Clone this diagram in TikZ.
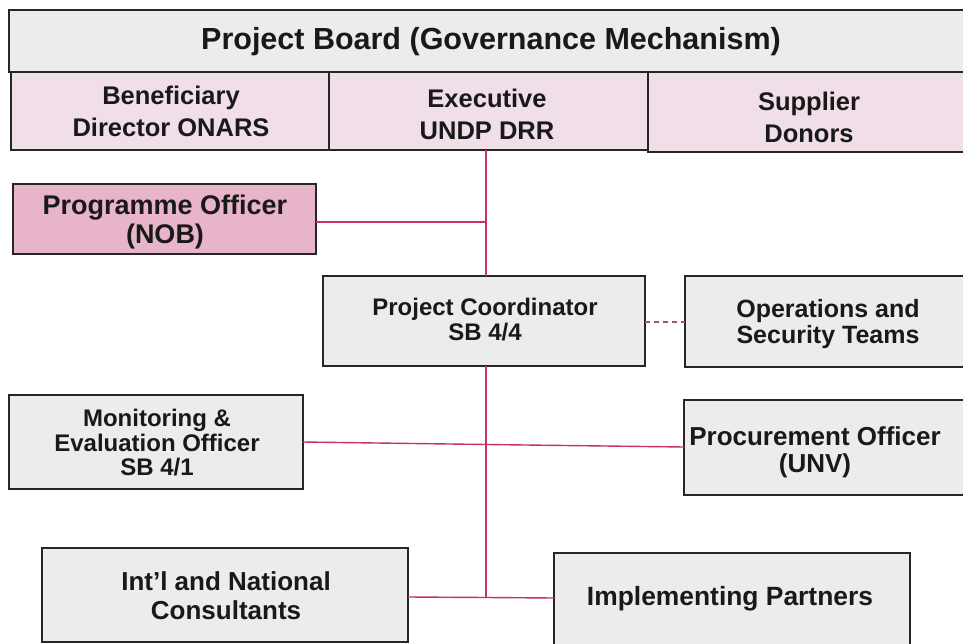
\documentclass[tikz,border=0pt]{standalone}
\usepackage{fontspec}
\setmainfont{Liberation Sans}
\definecolor{linkred}{RGB}{196,52,94}
\definecolor{cellgray}{RGB}{236,236,236}
\definecolor{rolepink}{RGB}{240,222,232}
\definecolor{officerpink}{RGB}{232,180,202}
\begin{document}
\begin{tikzpicture}[x=1pt,y=-1pt,
  box/.style={draw=black!85, line width=1.8pt},
  graybox/.style={box, fill=cellgray},
  lbl/.style n args={2}{font=\bfseries\fontsize{#1}{#2}\selectfont, align=center, text=black!90, inner sep=0pt},
  link/.style={draw=linkred, line width=1.4pt}
]
\clip (0,0) rectangle (963,644);
\fill[white] (0,0) rectangle (963,644);

% governance board: title row and three role cells
\path[graybox] (9,10) rectangle (975,72);
\path[box, fill=rolepink] (11,72) rectangle (329,150);
\path[box, fill=rolepink] (329,72) rectangle (648,150);
\path[box, fill=rolepink] (648,72) rectangle (975,152);
\node[lbl={30.5}{32}] (board) at (491,42) {Project Board (Governance Mechanism)};
\node[lbl={25.5}{32}] (benef) at (171,111) {Beneficiary\\Director ONARS};
\node[lbl={25.5}{32}] (exec) at (487,114) {Executive\\UNDP DRR};
\coordinate (execb) at (486,150);
\node[lbl={25.5}{32}] (supp) at (809,117) {Supplier\\Donors};

% staff boxes
\path[box, fill=officerpink] (13,184) rectangle (316,254);
\node[lbl={27}{29}] (prog) at (165,222) {Programme Officer\\(NOB)};
\coordinate (progr) at (316,222);

\path[graybox] (323,276) rectangle (645,366);
\node[lbl={24}{25}] (pc) at (485,320) {Project Coordinator\\SB 4/4};
\coordinate (pct) at (486,276);
\coordinate (pcb) at (486,366);
\coordinate (pcr) at (645,322);

\path[graybox] (685,276) rectangle (975,367);
\node[lbl={25}{26}] (ops) at (828,324) {Operations and\\Security Teams};
\coordinate (opsl) at (685,322);

\path[graybox] (9,395) rectangle (303,489);
\node[lbl={24}{24.5}] (me) at (157,443) {Monitoring \&\\Evaluation Officer\\SB 4/1};
\coordinate (mer) at (303,442);

\path[graybox] (684,400) rectangle (975,495);
\node[lbl={26}{27}] (proc) at (815,452) {Procurement Officer\\(UNV)};
\coordinate (procl) at (684,447);

\path[graybox] (42,548) rectangle (408,642);
\node[lbl={26}{29}] (cons) at (226,596) {Int'l and National\\Consultants};
\coordinate (consr) at (408,597);

\path[graybox] (554,553) rectangle (910,652);
\node[lbl={26.4}{27}] (impl) at (730,599) {Implementing Partners};
\coordinate (impll) at (554,598);

% reporting lines
\coordinate (j1) at (486,222);
\coordinate (j2) at (486,444.5);
\coordinate (j3) at (486,597.5);
\draw[link] (execb) -- (pct);
\draw[link] (progr) -- (j1);
\draw[link] (pcb) -- (j3);
\draw[link] (mer) -- (j2) -- (procl);
\draw[link] (consr) -- (j3) -- (impll);
\draw[link, draw=linkred!60!gray, dash pattern=on 5pt off 4pt] (pcr) -- (opsl);
\end{tikzpicture}
\end{document}
